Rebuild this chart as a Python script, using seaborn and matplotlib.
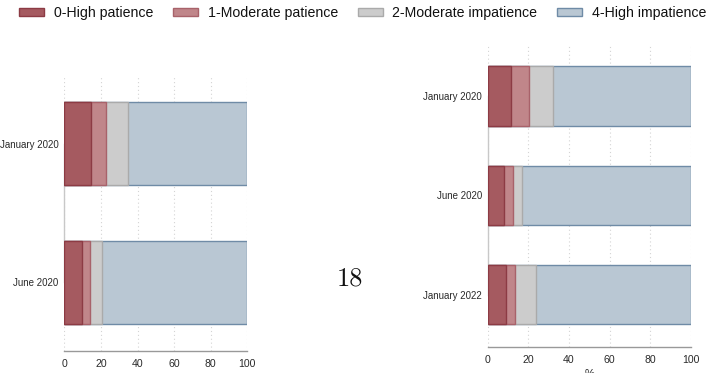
import matplotlib
matplotlib.use("Agg")
import matplotlib.pyplot as plt
from matplotlib.patches import Patch
import numpy as np
import pandas as pd
import seaborn as sns

# Shares (%) of respondents by patience level
levels = ["0-High patience", "1-Moderate patience", "2-Moderate impatience", "4-High impatience"]

left_periods = ["January 2020", "June 2020"]
left_high_pat = [14.4, 9.5]
left_mod_pat = [8.4, 4.5]
left_mod_imp = [12.2, 6.6]
left_high_imp = [65.0, 79.4]

right_periods = ["January 2020", "June 2020", "January 2022"]
right_high_pat = [11.5, 8.0, 9.0]
right_mod_pat = [8.6, 4.6, 4.3]
right_mod_imp = [12.2, 4.4, 10.5]
right_high_imp = [67.7, 83.0, 76.2]

x_ticks = [0, 20, 40, 60, 80, 100]
page_number = "18"

fills = ["#a55a60", "#c0868a", "#cccccc", "#b9c7d3"]
edges = ["#8c3b44", "#a8626a", "#aaaaaa", "#6f8ba6"]

sns.set_style("white")
plt.rcParams["font.family"] = ["Liberation Sans", "DejaVu Sans"]

fig = plt.figure(figsize=(7.27, 3.73), dpi=100)
W, H = 727, 373


def add_axes_px(x0, x1, ytop, ybot):
    return fig.add_axes([x0 / W, (H - ybot) / H, (x1 - x0) / W, (ybot - ytop) / H])


def stacked_panel(ax, periods, series, ylim):
    df = pd.DataFrame(dict(zip(levels, series)), index=periods)
    cum = df.cumsum(axis=1)
    # draw cumulative totals from the widest down so each segment shows
    for i in reversed(range(len(levels))):
        sub = pd.DataFrame({"period": periods, "value": cum[levels[i]].values})
        sns.barplot(data=sub, x="value", y="period", orient="h", ax=ax,
                    color=fills[i], edgecolor=edges[i], linewidth=1.0,
                    width=0.6, saturation=1, errorbar=None, zorder=3)
    ax.set_xlim(0, 100)
    ax.set_ylim(*ylim)
    ax.set_xticks(x_ticks)
    ax.set_xticklabels([str(t) for t in x_ticks], fontsize=7.6, color="#2a2a2a")
    ax.tick_params(axis="y", length=0, pad=4, labelsize=7.0, labelcolor="#2a2a2a")
    ax.tick_params(axis="x", length=3, width=0.8, color="#999999", pad=3, direction="out")
    ax.set_ylabel("")
    ax.set_xlabel("%", fontsize=8, color="#2a2a2a", labelpad=3)
    for t in x_ticks:
        ax.axvline(t, color="#d4d4d4", lw=0.8, ls=(0, (1, 2.5)), zorder=1)
    for s in ["top", "right"]:
        ax.spines[s].set_visible(False)
    ax.spines["bottom"].set_color("#999999")
    ax.spines["bottom"].set_linewidth(1.0)
    ax.spines["left"].set_color("#c8c8c8")
    ax.spines["left"].set_linewidth(1.0)
    ax.spines["left"].set_bounds(0, len(periods) - 1)
    ax.spines["left"].set_zorder(2)


ax1 = add_axes_px(64.3, 247.3, 75.5, 350.5)
stacked_panel(ax1, left_periods,
              [left_high_pat, left_mod_pat, left_mod_imp, left_high_imp],
              (1.495, -0.495))

ax2 = add_axes_px(487.7, 691.0, 44.5, 346.7)
stacked_panel(ax2, right_periods,
              [right_high_pat, right_mod_pat, right_mod_imp, right_high_imp],
              (2.525, -0.52))

handles = [Patch(facecolor=f, edgecolor=e, linewidth=1.0, label=l)
           for f, e, l in zip(fills, edges, levels)]
fig.legend(handles=handles, loc="upper left", bbox_to_anchor=(19 / W, 1 - 6 / H),
           ncol=4, frameon=False, fontsize=10.2, borderpad=0, borderaxespad=0,
           handlelength=1.75, handleheight=0.5, handletextpad=0.7, columnspacing=1.4,
           labelcolor="#111111")

fig.text(350 / W, 1 - 279 / H, page_number, fontfamily="cmr10", fontsize=19,
         ha="center", va="center", color="#111111")

fig.savefig("out.png", dpi=100)
